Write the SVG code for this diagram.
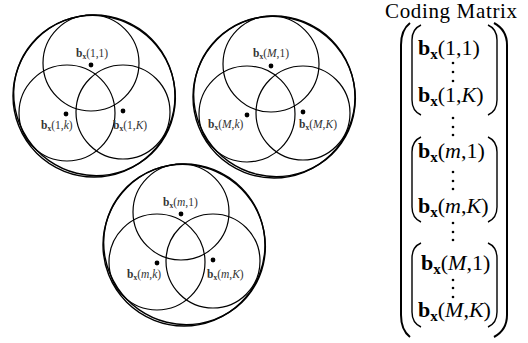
<svg xmlns="http://www.w3.org/2000/svg" width="528" height="343" viewBox="0 0 528 343">
<style>
.c{fill:none;stroke:#000;stroke-width:1.2}
.o{fill:none;stroke:#000;stroke-width:1.4}
.d{fill:#000}
.l{font-family:"Liberation Serif",serif;font-size:11.5px;fill:#333}
.m{font-family:"Liberation Serif",serif;font-size:22px;fill:#000}
.t{font-family:"Liberation Serif",serif;font-size:21px;fill:#000}
.b{font-weight:bold}
.i{font-style:italic}
.p{fill:none;stroke:#000;stroke-width:1.4}
.P{fill:none;stroke:#000;stroke-width:2}
</style>
<defs>
<g id="shape">
<circle class="o" cx="94" cy="96" r="81"/>
<ellipse class="o" cx="94.5" cy="95.5" rx="81.5" ry="79.5" transform="rotate(35 94.5 95.5)"/>
<circle class="c" cx="91" cy="63" r="48"/>
<circle class="c" cx="67" cy="113" r="48"/>
<circle class="c" cx="123" cy="112" r="47"/>
</g>
</defs>
<g id="cluster1">
<use href="#shape"/>
<circle class="d" cx="91" cy="65" r="2.4"/>
<circle class="d" cx="66" cy="114" r="2.4"/>
<circle class="d" cx="123" cy="111" r="2.4"/>
<text class="l" x="76" y="57"><tspan class="b">b</tspan><tspan class="b" font-size="7.5" dy="2">x</tspan><tspan dy="-2">(1,1)</tspan></text>
<text class="l" x="41" y="129"><tspan class="b">b</tspan><tspan class="b" font-size="7.5" dy="2">x</tspan><tspan dy="-2">(1,</tspan><tspan class="i">k</tspan>)</text>
<text class="l" x="113" y="129"><tspan class="b">b</tspan><tspan class="b" font-size="7.5" dy="2">x</tspan><tspan dy="-2">(1,</tspan><tspan class="i">K</tspan>)</text>
</g>
<g id="cluster2" transform="translate(180,1)">
<use href="#shape"/>
<circle class="d" cx="91" cy="65" r="2.4"/>
<circle class="d" cx="67" cy="114" r="2.4"/>
<circle class="d" cx="123" cy="111" r="2.4"/>
<text class="l" x="73" y="56"><tspan class="b">b</tspan><tspan class="b" font-size="7.5" dy="2">x</tspan><tspan dy="-2">(</tspan><tspan class="i">M</tspan>,1)</text>
<text class="l" x="28" y="127"><tspan class="b">b</tspan><tspan class="b" font-size="7.5" dy="2">x</tspan><tspan dy="-2">(</tspan><tspan class="i">M</tspan>,<tspan class="i">k</tspan>)</text>
<text class="l" x="119" y="127"><tspan class="b">b</tspan><tspan class="b" font-size="7.5" dy="2">x</tspan><tspan dy="-2">(</tspan><tspan class="i">M</tspan>,<tspan class="i">K</tspan>)</text>
</g>
<g id="cluster3" transform="translate(90,149)">
<use href="#shape"/>
<circle class="d" cx="91" cy="65" r="2.4"/>
<circle class="d" cx="67" cy="114" r="2.4"/>
<circle class="d" cx="123" cy="111" r="2.4"/>
<text class="l" x="73" y="57"><tspan class="b">b</tspan><tspan class="b" font-size="7.5" dy="2">x</tspan><tspan dy="-2">(</tspan><tspan class="i">m</tspan>,1)</text>
<text class="l" x="37" y="129"><tspan class="b">b</tspan><tspan class="b" font-size="7.5" dy="2">x</tspan><tspan dy="-2">(</tspan><tspan class="i">m</tspan>,<tspan class="i">k</tspan>)</text>
<text class="l" x="117" y="129"><tspan class="b">b</tspan><tspan class="b" font-size="7.5" dy="2">x</tspan><tspan dy="-2">(</tspan><tspan class="i">m</tspan>,<tspan class="i">K</tspan>)</text>
</g>
<g id="matrix">
<text class="t" x="385" y="18" textLength="132">Coding Matrix</text>
<path class="P" d="M410,23 Q401,30 401,45 L401,315 Q401,330 410,337"/>
<path class="P" d="M494,23 Q507,30 507,45 L507,315 Q507,330 494,337"/>
<path class="p" d="M421,25 Q412,29 412,40 L412,100 Q412,111 421,115"/>
<path class="p" d="M488,25 Q497,29 497,40 L497,100 Q497,111 488,115"/>
<path class="p" d="M421,137 Q412,141 412,152 L412,207 Q412,218 421,222"/>
<path class="p" d="M488,137 Q497,141 497,152 L497,207 Q497,218 488,222"/>
<path class="p" d="M421,243 Q412,247 412,258 L412,312 Q412,323 421,327"/>
<path class="p" d="M488,243 Q497,247 497,258 L497,312 Q497,323 488,327"/>
<text class="m" x="418" y="55"><tspan class="b">b</tspan><tspan class="b" font-size="15" dy="4">x</tspan><tspan dy="-4">(1,1)</tspan></text>
<text class="m" x="418" y="102"><tspan class="b">b</tspan><tspan class="b" font-size="15" dy="4">x</tspan><tspan dy="-4">(1,</tspan><tspan class="i">K</tspan>)</text>
<text class="m" x="418" y="158"><tspan class="b">b</tspan><tspan class="b" font-size="15" dy="4">x</tspan><tspan dy="-4">(</tspan><tspan class="i">m</tspan>,1)</text>
<text class="m" x="418" y="213"><tspan class="b">b</tspan><tspan class="b" font-size="15" dy="4">x</tspan><tspan dy="-4">(</tspan><tspan class="i">m</tspan>,<tspan class="i">K</tspan>)</text>
<text class="m" x="421" y="270"><tspan class="b">b</tspan><tspan class="b" font-size="15" dy="4">x</tspan><tspan dy="-4">(</tspan><tspan class="i">M</tspan>,1)</text>
<text class="m" x="418" y="317"><tspan class="b">b</tspan><tspan class="b" font-size="15" dy="4">x</tspan><tspan dy="-4">(</tspan><tspan class="i">M</tspan>,<tspan class="i">K</tspan>)</text>
<g class="d">
<circle cx="453" cy="63" r="1.3"/><circle cx="453" cy="72" r="1.3"/><circle cx="453" cy="81" r="1.3"/>
<circle cx="453" cy="118" r="1.3"/><circle cx="453" cy="127" r="1.3"/><circle cx="453" cy="135" r="1.3"/>
<circle cx="453" cy="172" r="1.3"/><circle cx="453" cy="181" r="1.3"/><circle cx="453" cy="189" r="1.3"/>
<circle cx="453" cy="223" r="1.3"/><circle cx="453" cy="232" r="1.3"/><circle cx="453" cy="240" r="1.3"/>
<circle cx="453" cy="280" r="1.3"/><circle cx="453" cy="288" r="1.3"/><circle cx="453" cy="297" r="1.3"/>
</g>
</g>
</svg>
